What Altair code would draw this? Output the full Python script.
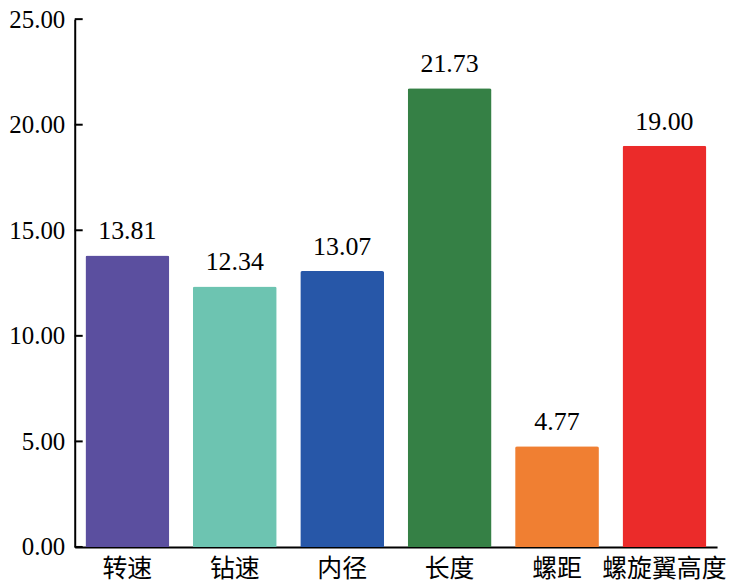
import altair as alt
import pandas as pd

categories = ["转速", "钻速", "内径", "长度", "螺距", "螺旋翼高度"]
values = [13.81, 12.34, 13.07, 21.73, 4.77, 19.00]
colors = ["#5B4F9F", "#6DC4B1", "#2757A8", "#358045", "#F07F32", "#EB2B2A"]
y_ticks = [0, 5, 10, 15, 20, 25]

NUM_FONT = "Times New Roman"
CJK_FONT = "Times New Roman, Noto Sans CJK SC"

df = pd.DataFrame({"cat": categories, "val": values, "color": colors})
ticks_df = pd.DataFrame({"t": y_ticks})

x_enc = alt.X("cat:N", sort=categories,
              scale=alt.Scale(paddingInner=0.22, paddingOuter=0.1),
              axis=alt.Axis(title=None, labelAngle=0, ticks=False, domainColor="#000000",
                            domainWidth=2, labelFont=CJK_FONT, labelFontSize=25,
                            labelColor="#000000", labelPadding=10))
y_scale = alt.Scale(domain=[0, 25], nice=False)
y_enc = alt.Y("val:Q", scale=y_scale,
              axis=alt.Axis(title=None, values=y_ticks, format=".2f", ticks=False, grid=False,
                            domainColor="#000000", domainWidth=2, labelFont=NUM_FONT,
                            labelFontSize=25, labelColor="#000000", labelPadding=10))

bars = alt.Chart(df).mark_bar(cornerRadiusTopLeft=2, cornerRadiusTopRight=2).encode(
    x=x_enc, y=y_enc, color=alt.Color("color:N", scale=None)
)

labels = alt.Chart(df).mark_text(baseline="alphabetic", dy=-16, font=NUM_FONT, fontSize=26,
                                 color="#000000").encode(
    x=alt.X("cat:N", sort=categories), y=alt.Y("val:Q", scale=y_scale),
    text=alt.Text("val:Q", format=".2f")
)

tick_marks = alt.Chart(ticks_df).mark_rule(color="#000000", strokeWidth=2).encode(
    y=alt.Y("t:Q", scale=y_scale), x=alt.value(0), x2=alt.value(8)
)

chart = alt.layer(bars, labels, tick_marks).properties(
    width=645, height=530,
    autosize=alt.AutoSizeParams(type="none"),
    padding={"left": 67, "top": 10, "right": 12, "bottom": 36},
).configure_view(stroke=None)

chart.save("out.html", embed_options={"renderer": "svg", "actions": False})
